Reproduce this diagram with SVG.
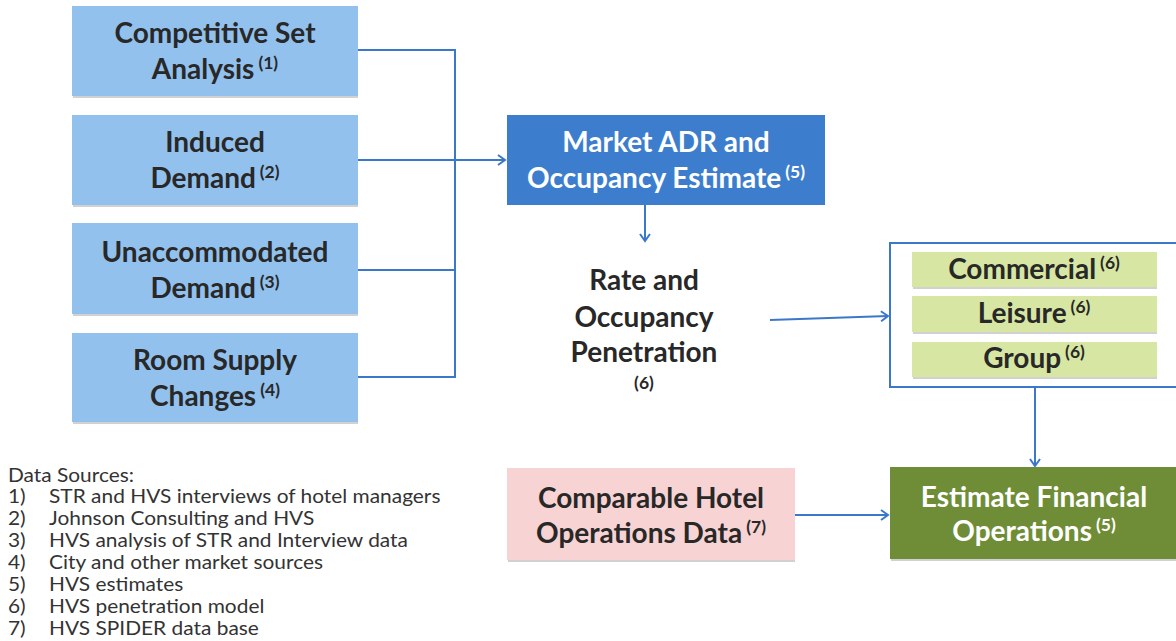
<svg xmlns="http://www.w3.org/2000/svg" width="1176" height="641" viewBox="0 0 1176 641">
<style>
  .t { font-family: Lato, "Liberation Sans", sans-serif; font-weight: bold; font-size: 28px; fill: #282828; text-anchor: middle; }
  .w { fill: #ffffff; }
  .sup { font-size: 17.5px; }
  .lb { fill: #92c1ee; }
  .sh { fill: #9a9a9a; opacity: 0.45; }
  .conn { stroke: #3b78c9; stroke-width: 2; fill: none; }
  .src { font-family: Lato, "Liberation Sans", sans-serif; font-size: 18.5px; fill: #333333; }
</style>
<defs>
  <marker id="arr" markerUnits="userSpaceOnUse" markerWidth="14" markerHeight="14" refX="9" refY="6" orient="auto">
    <path d="M2,1 L9,6 L2,11" fill="none" stroke="#3b78c9" stroke-width="2"/>
  </marker>
</defs>
<rect width="1176" height="641" fill="#ffffff"/>

<g id="connectors">
  <path class="conn" d="M358,50 H455 V377 H358"/>
  <path class="conn" d="M358,160 H455"/>
  <path class="conn" d="M358,270 H455"/>
  <path class="conn" d="M455,160 H505" marker-end="url(#arr)"/>
  <path class="conn" d="M645,205 V241" marker-end="url(#arr)"/>
  <path class="conn" d="M770,320 L888,316" marker-end="url(#arr)"/>
  <path class="conn" d="M1035,378 V466" marker-end="url(#arr)"/>
  <path class="conn" d="M795,515 H888" marker-end="url(#arr)"/>
</g>

<g id="competitive-set">
  <rect class="sh" x="73" y="96" width="285" height="2"/>
  <rect class="lb" x="72" y="6" width="286" height="90"/>
  <text class="t" x="215" y="43">Competitive Set</text>
  <text class="t" x="215" y="79">Analysis<tspan class="sup" dx="4" dy="-10">(1)</tspan></text>
</g>
<g id="induced-demand">
  <rect class="sh" x="73" y="205" width="285" height="2"/>
  <rect class="lb" x="72" y="115" width="286" height="90"/>
  <text class="t" x="215" y="152">Induced</text>
  <text class="t" x="215" y="188">Demand<tspan class="sup" dx="4" dy="-10">(2)</tspan></text>
</g>
<g id="unaccommodated-demand">
  <rect class="sh" x="73" y="314" width="285" height="2"/>
  <rect class="lb" x="72" y="223" width="286" height="91"/>
  <text class="t" x="215" y="262">Unaccommodated</text>
  <text class="t" x="215" y="298">Demand<tspan class="sup" dx="4" dy="-10">(3)</tspan></text>
</g>
<g id="room-supply">
  <rect class="sh" x="73" y="422" width="285" height="2"/>
  <rect class="lb" x="72" y="333" width="286" height="89"/>
  <text class="t" x="215" y="370">Room Supply</text>
  <text class="t" x="215" y="406">Changes<tspan class="sup" dx="4" dy="-10">(4)</tspan></text>
</g>

<g id="market-adr">
  <rect x="507" y="115" width="318" height="90" fill="#3c7ecd"/>
  <text class="t w" x="666" y="152">Market ADR and</text>
  <text class="t w" x="666" y="188">Occupancy Estimate<tspan class="sup" dx="4" dy="-10">(5)</tspan></text>
</g>

<g id="rate-penetration">
  <text class="t" x="644" y="290">Rate and</text>
  <text class="t" x="644" y="327">Occupancy</text>
  <text class="t" x="644" y="362">Penetration</text>
  <text class="t" x="644" y="389" style="font-size:17.5px">(6)</text>
</g>

<g id="segments">
  <rect x="890" y="243" width="300" height="144" fill="#ffffff" stroke="#3b78c9" stroke-width="2"/>
  <g id="commercial">
    <rect class="sh" x="913" y="287" width="244" height="2"/>
    <rect x="912" y="252" width="245" height="35" fill="#d7e6a2"/>
    <text class="t" x="1034" y="279">Commercial<tspan class="sup" dx="4" dy="-10">(6)</tspan></text>
  </g>
  <g id="leisure">
    <rect class="sh" x="913" y="332" width="244" height="2"/>
    <rect x="912" y="296" width="245" height="36" fill="#d7e6a2"/>
    <text class="t" x="1034" y="323">Leisure<tspan class="sup" dx="4" dy="-10">(6)</tspan></text>
  </g>
  <g id="group">
    <rect class="sh" x="913" y="377" width="244" height="2"/>
    <rect x="912" y="342" width="245" height="35" fill="#d7e6a2"/>
    <text class="t" x="1034" y="368">Group<tspan class="sup" dx="4" dy="-10">(6)</tspan></text>
  </g>
</g>

<g id="comparable-hotel">
  <rect class="sh" x="508" y="560" width="287" height="2"/>
  <rect x="507" y="468" width="288" height="92" fill="#f8d3d3"/>
  <text class="t" x="651" y="508">Comparable Hotel</text>
  <text class="t" x="651" y="543">Operations Data<tspan class="sup" dx="4" dy="-10">(7)</tspan></text>
</g>

<g id="estimate-financial">
  <rect class="sh" x="891" y="559" width="285" height="2"/>
  <rect x="890" y="467" width="290" height="92" fill="#6f8d37"/>
  <text class="t w" x="1034" y="507">Estimate Financial</text>
  <text class="t w" x="1034" y="541">Operations<tspan class="sup" dx="4" dy="-10">(5)</tspan></text>
</g>

<g id="data-sources" transform="scale(1.13 1)">
  <text class="src" x="7" y="482">Data Sources:</text>
  <text class="src" x="7" y="503">1)</text><text class="src" x="43.4" y="503">STR and HVS interviews of hotel managers</text>
  <text class="src" x="7" y="525">2)</text><text class="src" x="43.4" y="525">Johnson Consulting and HVS</text>
  <text class="src" x="7" y="547">3)</text><text class="src" x="43.4" y="547">HVS analysis of STR and Interview data</text>
  <text class="src" x="7" y="569">4)</text><text class="src" x="43.4" y="569">City and other market sources</text>
  <text class="src" x="7" y="591">5)</text><text class="src" x="43.4" y="591">HVS estimates</text>
  <text class="src" x="7" y="613">6)</text><text class="src" x="43.4" y="613">HVS penetration model</text>
  <text class="src" x="7" y="635">7)</text><text class="src" x="43.4" y="635">HVS SPIDER data base</text>
</g>
</svg>
